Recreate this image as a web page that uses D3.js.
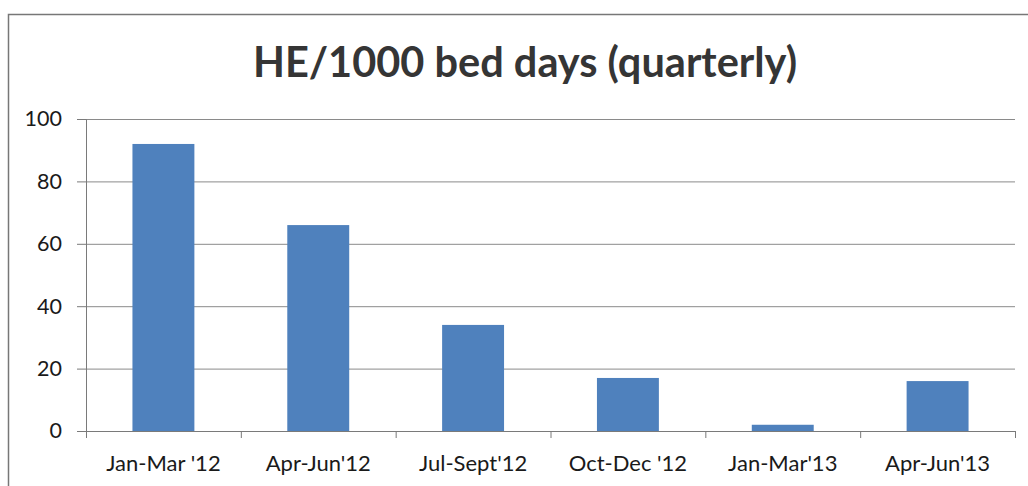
<!DOCTYPE html>
<html lang="en">
<head>
<meta charset="UTF-8">
<title>HE/1000 bed days (quarterly)</title>
<script src="https://d3js.org/d3.v7.min.js"></script>
<style>
  body { margin: 0; background: #fff; }
  text { font-family: Lato, "Open Sans", sans-serif; fill: #1a1a1a; }
</style>
</head>
<body>
<svg class="chart"></svg>
<script>
const quarters = ["Jan-Mar '12", "Apr-Jun'12", "Jul-Sept'12", "Oct-Dec '12", "Jan-Mar'13", "Apr-Jun'13"]
const heRate = [92, 66, 34, 17, 2, 16]
const yTicks = [0, 20, 40, 60, 80, 100]

const W = 1028, H = 486
const margin = { top: 119, right: 13, bottom: 55, left: 86 }
const plotW = W - margin.left - margin.right
const plotH = H - margin.top - margin.bottom

const svg = d3.select(".chart").attr("width", W).attr("height", H)

// chart frame (only top and left edges fall inside the crop)
svg.append("path")
    .attr("d", `M8.5,${H} V14.5 H${W}`)
    .attr("fill", "none").attr("stroke", "#777").attr("stroke-width", 1.5)

svg.append("text")
    .attr("x", 525).attr("y", 77)
    .attr("text-anchor", "middle")
    .style("font-size", "41.5px").style("font-weight", "bold").style("fill", "#353535")
    .text("HE/1000 bed days (quarterly)")

const g = svg.append("g").attr("transform", `translate(${margin.left},${margin.top})`)

const x = d3.scaleBand().domain(quarters).range([0, plotW]).paddingInner(0.6).paddingOuter(0.3)
const xEdge = d3.scaleLinear().domain([0, quarters.length]).range([0, plotW])
const y = d3.scaleLinear().domain([0, 100]).range([plotH, 0])

// gridlines
g.append("g")
    .call(d3.axisLeft(y).tickValues(yTicks).tickSize(-plotW).tickFormat(""))
    .call(a => a.select(".domain").remove())
    .selectAll("line").attr("stroke", "#8a8a8a").attr("stroke-width", 1)

g.selectAll("rect.bar")
    .data(heRate)
    .join("rect")
    .attr("class", "bar")
    .attr("x", (d, i) => x(quarters[i]))
    .attr("width", x.bandwidth())
    .attr("y", d => y(d))
    .attr("height", d => y(0) - y(d))
    .attr("fill", "#4f81bd")

// y axis
const yAxis = g.append("g")
    .call(d3.axisLeft(y).tickValues(yTicks).tickSize(9).tickPadding(15))
yAxis.select(".domain").attr("stroke", "#7a7a7a")
yAxis.selectAll("line").attr("stroke", "#7a7a7a")
yAxis.selectAll("text").style("font-size", "21.5px")

// x axis: boundary ticks + category labels
const xTickAxis = g.append("g").attr("transform", `translate(0,${plotH})`)
    .call(d3.axisBottom(xEdge).tickValues(d3.range(quarters.length + 1)).tickSize(7).tickFormat(""))
xTickAxis.select(".domain").attr("stroke", "#7a7a7a")
xTickAxis.selectAll("line").attr("stroke", "#7a7a7a")

const xLabels = g.append("g").attr("transform", `translate(0,${plotH})`)
    .call(d3.axisBottom(x).tickSize(0).tickPadding(24))
xLabels.select(".domain").remove()
xLabels.selectAll("text").style("font-size", "22px")
</script>
</body>
</html>
